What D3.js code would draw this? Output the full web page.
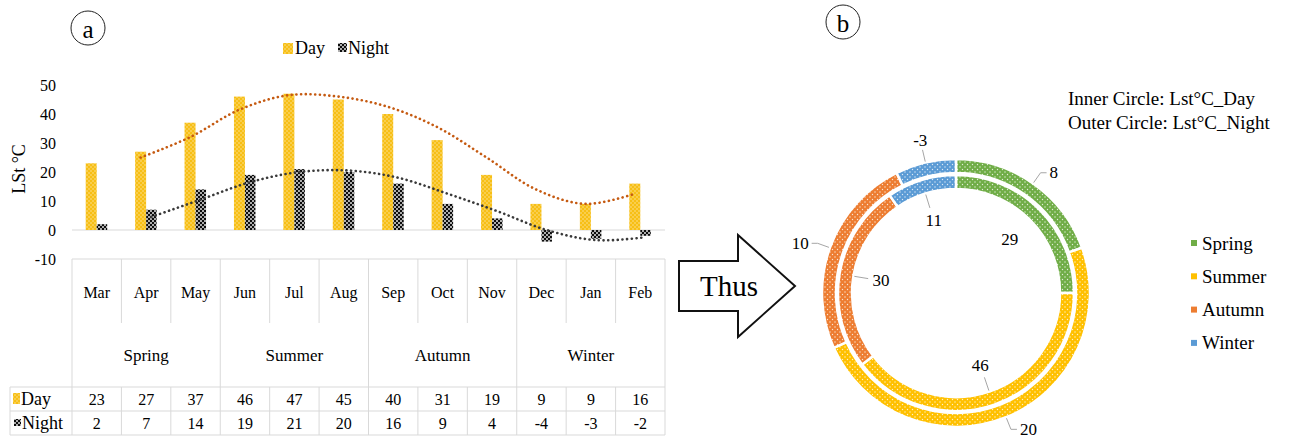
<!DOCTYPE html>
<html>
<head>
<meta charset="utf-8">
<script src="https://cdn.jsdelivr.net/npm/d3@7"></script>
<style>
body { margin: 0; background: #fff; }
svg { display: block; font-family: "Liberation Serif", "Times New Roman", serif; }
</style>
</head>
<body>
<div id="chart"></div>
<script>
// data
var months = ["Mar", "Apr", "May", "Jun", "Jul", "Aug", "Sep", "Oct", "Nov", "Dec", "Jan", "Feb"];
var seasons = ["Spring", "Summer", "Autumn", "Winter"];
var dayLst = [23, 27, 37, 46, 47, 45, 40, 31, 19, 9, 9, 16];
var nightLst = [2, 7, 14, 19, 21, 20, 16, 9, 4, -4, -3, -2];
// dotted trend lines (2 period moving average as drawn)
var dayTrend = [null, 25, 32, 41.5, 46.5, 46, 42.5, 35.5, 25, 14, 9, 12.5];
var nightTrend = [null, 4.5, 10.5, 16.5, 20, 20.5, 18, 12.5, 6.5, 0, -3.5, -2.5];
var yTicks = [-10, 0, 10, 20, 30, 40, 50];
var seasonDay = [29, 46, 30, 11];
var seasonNight = [8, 20, 10, -3];
var seasonColors = ["#70ad47", "#ffc000", "#ed7d31", "#5b9bd5"];

var width = 1292, height = 440;

var svg = d3.select("#chart").append("svg")
    .attr("width", width)
    .attr("height", height);

var defs = svg.append("defs");

function dotPattern(id, bg, size, dots, r, op) {
    var p = defs.append("pattern")
        .attr("id", id)
        .attr("patternUnits", "userSpaceOnUse")
        .attr("width", size)
        .attr("height", size);
    p.append("rect").attr("width", size).attr("height", size).attr("fill", bg);
    dots.forEach(function(d) {
        p.append("circle").attr("cx", d[0]).attr("cy", d[1]).attr("r", r)
            .attr("fill", "#fff").attr("opacity", op);
    });
}

dotPattern("dayPat", "#f7bf15", 4, [[1, 1], [3, 3]], 0.75, 0.6);
dotPattern("nightPat", "#0d0d0d", 4, [[1, 1], [3, 3]], 0.95, 0.95);
seasonColors.forEach(function(c, i) {
    dotPattern("seasonPat" + i, c, 5, [[1.5, 1.5], [4, 4]], 0.7, 0.8);
});

// ---------- panel a ----------
var x = d3.scaleBand().domain(months).range([72, 665]);
var bw = x.bandwidth();
var y = d3.scaleLinear().domain([-10, 50]).range([259, 85]);

svg.append("circle").attr("cx", 88).attr("cy", 28).attr("r", 17)
    .attr("fill", "none").attr("stroke", "#222").attr("stroke-width", 1);
svg.append("text").attr("x", 88).attr("y", 29).attr("text-anchor", "middle")
    .attr("dominant-baseline", "central").style("font-size", "25px").text("a");

// legend
svg.append("rect").attr("x", 283).attr("y", 43).attr("width", 10).attr("height", 11).attr("fill", "url(#dayPat)");
svg.append("text").attr("x", 295).attr("y", 54).style("font-size", "18px").text("Day");
svg.append("rect").attr("x", 338).attr("y", 43).attr("width", 9).attr("height", 9).attr("fill", "url(#nightPat)");
svg.append("text").attr("x", 348).attr("y", 54).style("font-size", "18px").text("Night");

// y axis labels
svg.selectAll(".ytick").data(yTicks).enter().append("text")
    .attr("class", "ytick")
    .attr("x", 56)
    .attr("y", function(d) { return y(d); })
    .attr("text-anchor", "end")
    .attr("dominant-baseline", "central")
    .style("font-size", "16px")
    .text(function(d) { return d; });

svg.append("text")
    .attr("transform", "translate(25," + 169 + ") rotate(-90)")
    .attr("text-anchor", "middle")
    .style("font-size", "18px")
    .text("LSt °C");

// zero line
svg.append("line").attr("x1", 72).attr("x2", 665).attr("y1", y(0)).attr("y2", y(0))
    .attr("stroke", "#d9d9d9").attr("stroke-width", 1);

// bars
svg.selectAll(".dayBar").data(dayLst).enter().append("rect")
    .attr("class", "dayBar")
    .attr("x", function(d, i) { return x(months[i]) + bw / 2 - 11; })
    .attr("width", 11)
    .attr("y", function(d) { return y(Math.max(0, d)); })
    .attr("height", function(d) { return Math.abs(y(d) - y(0)); })
    .attr("fill", "url(#dayPat)");

svg.selectAll(".nightBar").data(nightLst).enter().append("rect")
    .attr("class", "nightBar")
    .attr("x", function(d, i) { return x(months[i]) + bw / 2; })
    .attr("width", 10.5)
    .attr("y", function(d) { return y(Math.max(0, d)); })
    .attr("height", function(d) { return Math.abs(y(d) - y(0)); })
    .attr("fill", "url(#nightPat)");

// trend lines
function trendLine(vals, off) {
    return d3.line()
        .defined(function(d) { return d != null; })
        .x(function(d, i) { return x(months[i]) + bw / 2 + off; })
        .y(function(d) { return y(d); })
        .curve(d3.curveCatmullRom.alpha(0.5))(vals);
}
svg.append("path").attr("d", trendLine(dayTrend, -5.5))
    .attr("fill", "none").attr("stroke", "#c55a11").attr("stroke-width", 2.6)
    .attr("stroke-linecap", "round").attr("stroke-dasharray", "0.1,4.6");
svg.append("path").attr("d", trendLine(nightTrend, 5.2))
    .attr("fill", "none").attr("stroke", "#3a3a3a").attr("stroke-width", 2.6)
    .attr("stroke-linecap", "round").attr("stroke-dasharray", "0.1,4.6");

// data table
var grid = svg.append("g").attr("stroke", "#d9d9d9").attr("stroke-width", 1);
var tTop = 259, tMonthEnd = 323, tRow1 = 387, tRow2 = 411, tBottom = 435;
grid.append("line").attr("x1", 72).attr("x2", 665).attr("y1", tTop).attr("y2", tTop);
[tRow1, tRow2, tBottom].forEach(function(v) {
    grid.append("line").attr("x1", 10).attr("x2", 665).attr("y1", v).attr("y2", v);
});
grid.append("line").attr("x1", 10).attr("x2", 10).attr("y1", tRow1).attr("y2", tBottom);
d3.range(months.length + 1).forEach(function(i) {
    var xv = 72 + i * bw;
    var full = (i % 3 === 0);
    grid.append("line").attr("x1", xv).attr("x2", xv).attr("y1", tTop).attr("y2", full ? tBottom : tMonthEnd);
    if (!full) grid.append("line").attr("x1", xv).attr("x2", xv).attr("y1", tRow1).attr("y2", tBottom);
});

svg.selectAll(".mLabel").data(months).enter().append("text")
    .attr("x", function(d) { return x(d) + bw / 2; })
    .attr("y", 292)
    .attr("text-anchor", "middle").attr("dominant-baseline", "central")
    .style("font-size", "16px").text(function(d) { return d; });

svg.selectAll(".sLabel").data(seasons).enter().append("text")
    .attr("x", function(d, i) { return x(months[i * 3]) + bw * 1.5; })
    .attr("y", 355)
    .attr("text-anchor", "middle").attr("dominant-baseline", "central")
    .style("font-size", "17px").text(function(d) { return d; });

svg.selectAll(".dVal").data(dayLst).enter().append("text")
    .attr("x", function(d, i) { return x(months[i]) + bw / 2; })
    .attr("y", 399)
    .attr("text-anchor", "middle").attr("dominant-baseline", "central")
    .style("font-size", "16px").text(function(d) { return d; });

svg.selectAll(".nVal").data(nightLst).enter().append("text")
    .attr("x", function(d, i) { return x(months[i]) + bw / 2; })
    .attr("y", 423)
    .attr("text-anchor", "middle").attr("dominant-baseline", "central")
    .style("font-size", "16px").text(function(d) { return d; });

svg.append("rect").attr("x", 13).attr("y", 393).attr("width", 7).attr("height", 11).attr("fill", "url(#dayPat)");
svg.append("text").attr("x", 21).attr("y", 399).attr("dominant-baseline", "central").style("font-size", "18px").text("Day");
svg.append("rect").attr("x", 14).attr("y", 419).attr("width", 7).attr("height", 7).attr("fill", "url(#nightPat)");
svg.append("text").attr("x", 22).attr("y", 423).attr("dominant-baseline", "central").style("font-size", "18px").text("Night");

// ---------- arrow ----------
svg.append("path")
    .attr("d", "M679,261 L738,261 L738,235 L795,286 L738,337 L738,311 L679,311 Z")
    .attr("fill", "#fff").attr("stroke", "#111").attr("stroke-width", 2);
svg.append("text").attr("x", 729).attr("y", 286)
    .attr("text-anchor", "middle").attr("dominant-baseline", "central")
    .style("font-size", "29px").text("Thus");

// ---------- panel b ----------
svg.append("circle").attr("cx", 843).attr("cy", 22).attr("r", 17)
    .attr("fill", "none").attr("stroke", "#222").attr("stroke-width", 1);
svg.append("text").attr("x", 843).attr("y", 23).attr("text-anchor", "middle")
    .attr("dominant-baseline", "central").style("font-size", "25px").text("b");

svg.append("text").attr("x", 1068).attr("y", 105).style("font-size", "19px").text("Inner Circle: Lst°C_Day");
svg.append("text").attr("x", 1068).attr("y", 129).style("font-size", "19px").text("Outer Circle: Lst°C_Night");

var cx = 956, cy = 293;
var donut = svg.append("g").attr("transform", "translate(" + cx + "," + cy + ")");

var pie = d3.pie().sort(null).value(function(d) { return Math.abs(d); });
var innerArc = d3.arc().innerRadius(104).outerRadius(118);
var outerArc = d3.arc().innerRadius(120).outerRadius(134);

var innerData = pie(seasonDay);
var outerData = pie(seasonNight);

donut.selectAll(".inArc").data(innerData).enter().append("path")
    .attr("d", innerArc)
    .attr("fill", function(d, i) { return "url(#seasonPat" + i + ")"; })
    .attr("stroke", "#fff").attr("stroke-width", 2.5);

donut.selectAll(".outArc").data(outerData).enter().append("path")
    .attr("d", outerArc)
    .attr("fill", function(d, i) { return "url(#seasonPat" + i + ")"; })
    .attr("stroke", "#fff").attr("stroke-width", 2.5);

function pt(a, r) { return [r * Math.sin(a), -r * Math.cos(a)]; }
function mid(d) { return (d.startAngle + d.endAngle) / 2; }

// inner labels
var innerLeader = [false, true, true, true];
innerData.forEach(function(d, i) {
    var a = mid(d);
    var p = pt(a, 76);
    if (innerLeader[i]) {
        var p1 = pt(a, 89), p2 = pt(a, 103);
        donut.append("line").attr("x1", p1[0]).attr("y1", p1[1]).attr("x2", p2[0]).attr("y2", p2[1])
            .attr("stroke", "#a6a6a6").attr("stroke-width", 1);
    }
    donut.append("text").attr("x", p[0]).attr("y", p[1])
        .attr("text-anchor", "middle").attr("dominant-baseline", "central")
        .style("font-size", "17px").text(seasonDay[i]);
});

// outer labels
outerData.forEach(function(d, i) {
    var a = mid(d);
    var s = Math.sin(a);
    var p1 = pt(a, 135), p2 = pt(a, 147);
    var pts = [p1, p2];
    var lx, ly, anchor;
    if (Math.abs(s) > 0.3) {
        var dir = s > 0 ? 1 : -1;
        var p3 = [p2[0] + dir * 6, p2[1]];
        pts.push(p3);
        lx = p3[0] + dir * 3; ly = p3[1]; anchor = s > 0 ? "start" : "end";
    } else {
        var pl = pt(a, 157);
        lx = pl[0]; ly = pl[1]; anchor = "middle";
    }
    donut.append("path").attr("d", d3.line()(pts))
        .attr("fill", "none").attr("stroke", "#a6a6a6").attr("stroke-width", 1);
    donut.append("text").attr("x", lx).attr("y", ly)
        .attr("text-anchor", anchor).attr("dominant-baseline", "central")
        .style("font-size", "17px").text(seasonNight[i]);
});

// season legend
var leg = svg.append("g");
seasons.forEach(function(s, i) {
    var ly = 243 + i * 33.3;
    leg.append("rect").attr("x", 1191).attr("y", ly - 3).attr("width", 6).attr("height", 6)
        .attr("fill", seasonColors[i]);
    leg.append("text").attr("x", 1202).attr("y", ly).attr("dominant-baseline", "central")
        .style("font-size", "19px").text(s);
});
</script>
</body>
</html>
